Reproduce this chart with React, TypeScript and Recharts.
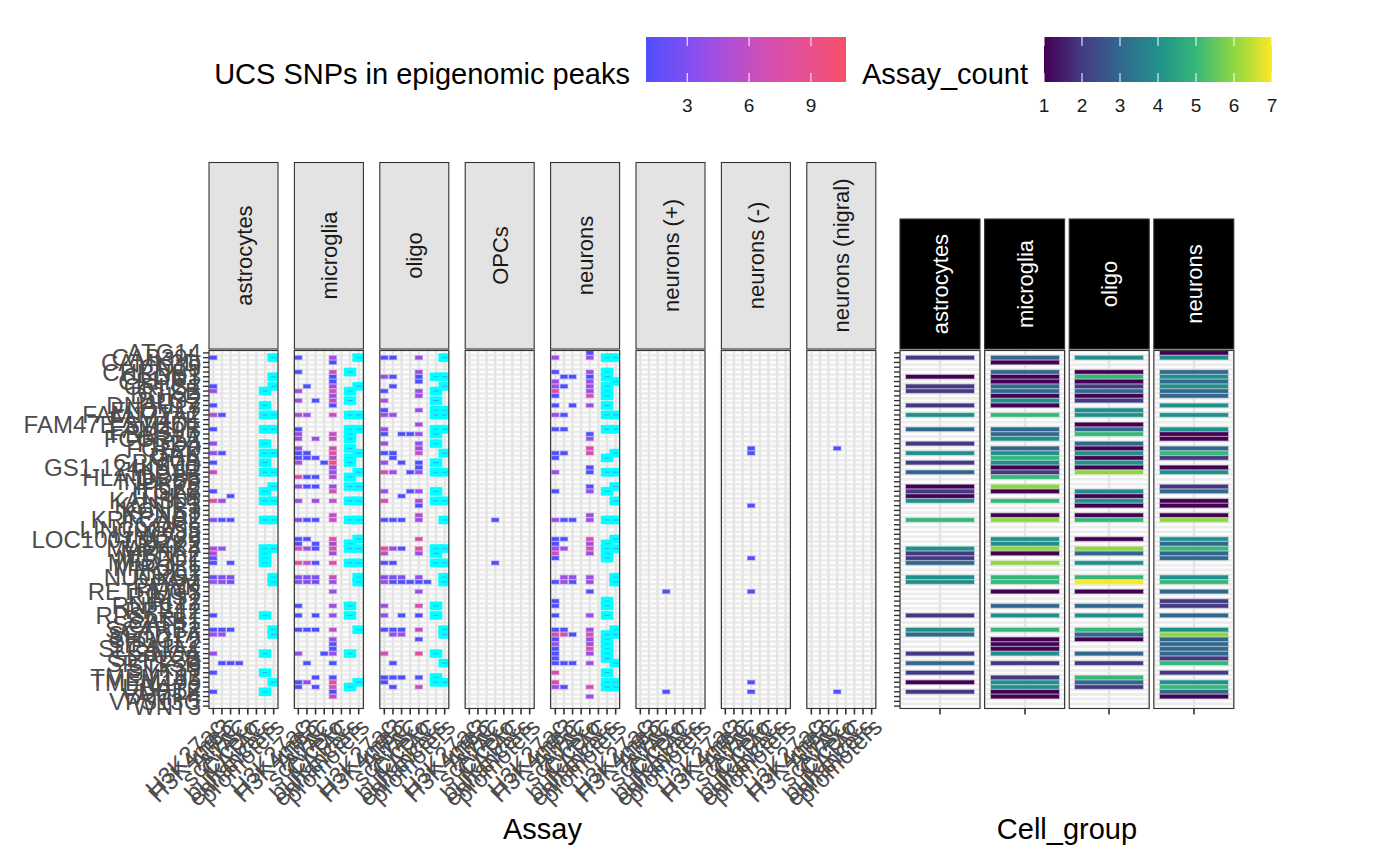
import React from "react";
import { ScatterChart, Scatter, XAxis, YAxis, CartesianGrid } from "recharts";

const genes = [
  "ATG14", "CAB39L", "CAMK2D", "CD19", "CHRNB1", "CLCN3", "CRHR1", "CRLS1", "CTSB", "DGKQ",
  "DLG2", "DNAH17", "ELOVL7", "FAM171A2", "FAM47E", "FAM47E-STBD1", "FAM49B", "FBRSL1", "FCGR2A", "FGD4",
  "FGF20", "GAK", "GBA", "GPNMB", "GS1-124K5.11", "HIP1R", "HLA-DRB5", "INPP5F", "IP6K2", "ITGA8",
  "ITPKB", "KANSL1", "KCNIP3", "KCNS3", "KPNA1", "KRTCAP2", "LCORL", "LINC00693", "LINGO2", "LOC100131289",
  "LRRK2", "MAP4K4", "MBNL2", "MCCC1", "MED12L", "MIPOL1", "NOD2", "NUCKS1", "PAM", "PMVK",
  "RETREG3", "RIMS1", "RIT2", "RNF141", "RPS12", "RPS6KL1", "SATB1", "SCAF11", "SCARB2", "SETD1A",
  "SH3GL2", "SIPA1L2", "SLC41A1", "SNCA", "SPPL2B", "SPTSSB", "STK39", "SYT17", "TMEM163", "TMEM175",
  "UBAP2", "UBTF", "VAMP4", "VPS13C", "WNT3",
];

const assays = ["H3K27ac", "H3K4me3", "ATAC", "scATAC", "Cicero", "bulkATAC", "enhancers", "promoters"];
const cellTypes = ["astrocytes", "microglia", "oligo", "OPCs", "neurons", "neurons (+)", "neurons (-)", "neurons (nigral)"];
const cellGroups = ["astrocytes", "microglia", "oligo", "neurons"];
const snpTicks = [3, 6, 9];
const countTicks = [1, 2, 3, 4, 5, 6, 7];

// [gene row, assay column, UCS SNPs in peak]
const astrocytesPeaks = [
  [1, 0, 1], [7, 0, 1], [8, 0, 4], [11, 0, 1], [13, 0, 5], [13, 1, 1], [16, 0, 1], [19, 0, 4], [21, 0, 4], [21, 1, 1],
  [23, 0, 1], [25, 0, 6], [29, 0, 1], [30, 2, 1], [31, 0, 8], [31, 1, 4], [35, 0, 3], [35, 1, 1], [35, 2, 1], [41, 0, 5],
  [41, 1, 4], [42, 0, 5], [43, 0, 2], [44, 0, 1], [44, 2, 1], [47, 0, 2], [47, 1, 3], [47, 2, 3], [48, 0, 4], [48, 1, 3],
  [48, 2, 2], [55, 0, 1], [58, 0, 1], [58, 1, 1], [58, 2, 1], [59, 0, 4], [59, 1, 4], [63, 0, 4], [65, 1, 1], [65, 2, 1],
  [65, 3, 1], [67, 0, 1], [71, 0, 1],
];
const microgliaPeaks = [
  [1, 0, 1], [1, 4, 4], [2, 4, 1], [4, 0, 1], [4, 4, 7], [5, 4, 1], [6, 4, 1], [7, 1, 1], [7, 4, 4], [8, 0, 4],
  [8, 4, 7], [9, 4, 4], [10, 0, 4], [10, 2, 1], [10, 4, 6], [11, 4, 1], [13, 0, 5], [13, 1, 4], [13, 4, 6], [16, 0, 1],
  [17, 0, 4], [17, 4, 6], [18, 0, 4], [18, 2, 4], [18, 4, 6], [20, 0, 4], [20, 4, 7], [21, 0, 1], [21, 1, 1], [21, 4, 8],
  [22, 0, 1], [22, 1, 1], [22, 2, 1], [22, 4, 5], [23, 0, 5], [23, 3, 1], [23, 4, 10.7], [24, 4, 4], [25, 4, 4], [26, 0, 7],
  [26, 1, 1], [26, 2, 1], [26, 4, 5], [28, 0, 4], [28, 1, 1], [28, 2, 1], [28, 4, 4], [29, 4, 7], [31, 0, 4], [31, 2, 4],
  [31, 4, 6], [34, 4, 6], [35, 0, 3], [35, 1, 1], [35, 2, 1], [35, 4, 6], [39, 0, 1], [39, 1, 1], [39, 4, 8], [40, 0, 1],
  [40, 2, 1], [40, 4, 4], [41, 0, 7], [41, 1, 4], [41, 2, 1], [41, 4, 8], [42, 4, 4], [44, 0, 8], [44, 1, 6], [44, 2, 1],
  [44, 4, 8], [47, 0, 3], [47, 1, 3], [47, 2, 3], [47, 4, 6], [48, 0, 3], [48, 1, 3], [48, 2, 2], [48, 4, 4], [50, 4, 4],
  [53, 0, 1], [53, 4, 4], [55, 0, 1], [55, 2, 1], [55, 4, 4], [58, 0, 1], [58, 1, 1], [58, 2, 1], [58, 4, 6], [60, 4, 4],
  [61, 4, 1], [62, 4, 1], [63, 0, 4], [63, 3, 1], [63, 4, 4], [65, 1, 1], [65, 4, 1], [68, 2, 1], [68, 4, 1], [69, 0, 1],
  [69, 1, 4], [69, 4, 8], [70, 0, 1], [70, 2, 1], [70, 4, 7], [71, 4, 1], [72, 4, 6],
];
const oligoPeaks = [
  [1, 0, 1], [1, 1, 1], [1, 4, 4], [4, 4, 4], [5, 0, 4], [5, 1, 1], [5, 4, 1], [6, 4, 1], [7, 1, 1], [8, 0, 1],
  [8, 4, 4], [9, 4, 4], [10, 0, 5], [12, 0, 1], [12, 4, 4], [13, 0, 4], [13, 1, 4], [15, 4, 4], [16, 0, 4], [17, 0, 1],
  [17, 2, 1], [17, 3, 1], [17, 4, 4], [19, 0, 4], [19, 4, 4], [20, 4, 4], [21, 0, 1], [21, 1, 1], [21, 4, 6], [22, 1, 1],
  [23, 0, 4], [23, 2, 1], [23, 4, 1], [24, 4, 1], [25, 0, 7], [25, 1, 4], [25, 3, 1], [25, 4, 4], [29, 0, 4], [29, 3, 1],
  [29, 4, 4], [30, 2, 1], [31, 0, 7], [31, 4, 5], [32, 4, 1], [34, 4, 5], [35, 0, 1], [35, 1, 1], [35, 2, 1], [35, 4, 4],
  [39, 4, 7], [41, 0, 8], [41, 1, 4], [41, 2, 1], [41, 4, 8], [42, 0, 6], [42, 4, 4], [44, 0, 1], [44, 1, 1], [47, 0, 3],
  [47, 1, 3], [47, 2, 3], [47, 4, 4], [48, 0, 4], [48, 1, 1], [48, 2, 1], [48, 3, 1], [48, 4, 1], [48, 5, 1], [50, 4, 4],
  [53, 0, 4], [53, 4, 7], [55, 0, 4], [55, 2, 1], [55, 4, 1], [58, 0, 1], [58, 1, 1], [58, 2, 1], [58, 4, 6], [59, 1, 4],
  [59, 2, 4], [60, 4, 1], [63, 0, 7], [63, 4, 8], [65, 1, 1], [68, 0, 1], [68, 1, 1], [68, 2, 1], [68, 4, 1], [69, 0, 1],
  [70, 1, 1], [70, 4, 6],
];
const opcsPeaks = [[35, 3, 1], [44, 3, 1]];
const neuronsPeaks = [
  [0, 4, 1], [1, 0, 4], [1, 4, 4], [4, 0, 1], [4, 4, 4], [5, 1, 1], [5, 2, 1], [5, 4, 1], [6, 0, 4], [6, 4, 4],
  [7, 0, 4], [7, 1, 1], [7, 4, 4], [8, 0, 7], [8, 4, 4], [9, 0, 1], [9, 4, 7], [11, 0, 1], [11, 2, 1], [11, 4, 4],
  [13, 0, 4], [13, 1, 1], [16, 0, 1], [16, 1, 1], [17, 4, 1], [18, 4, 4], [20, 4, 7], [21, 0, 1], [21, 1, 1], [21, 4, 7],
  [22, 0, 1], [24, 4, 1], [25, 0, 4], [25, 4, 1], [28, 4, 1], [29, 0, 1], [29, 4, 4], [34, 4, 4], [35, 0, 4], [35, 1, 1],
  [35, 2, 1], [35, 4, 4], [39, 0, 1], [39, 1, 1], [39, 4, 7], [40, 0, 1], [40, 4, 4], [41, 0, 4], [41, 1, 4], [41, 4, 7],
  [42, 0, 7], [42, 4, 4], [43, 0, 1], [47, 1, 4], [47, 2, 4], [47, 4, 4], [48, 0, 1], [48, 1, 4], [48, 2, 1], [48, 4, 4],
  [50, 4, 1], [52, 0, 1], [53, 0, 1], [55, 0, 1], [55, 4, 4], [58, 0, 1], [58, 1, 1], [58, 4, 4], [59, 0, 7], [59, 1, 7],
  [59, 2, 1], [59, 4, 7], [60, 0, 1], [60, 4, 4], [61, 0, 4], [61, 4, 4], [62, 0, 1], [62, 4, 7], [63, 0, 1], [63, 4, 4],
  [64, 0, 1], [65, 0, 1], [65, 1, 1], [65, 2, 1], [65, 4, 4], [67, 0, 7], [69, 0, 7], [70, 0, 4], [70, 1, 1], [70, 4, 7],
  [72, 4, 4],
];
const neuronsPlusPeaks = [[50, 3, 1], [71, 3, 1]];
const neuronsMinusPeaks = [[20, 3, 1], [21, 3, 1], [32, 3, 1], [43, 3, 1], [50, 3, 1], [69, 3, 1], [71, 3, 1]];
const neuronsNigralPeaks = [[20, 3, 1], [71, 3, 1]];

// [gene row, assay column] PLAC-seq anchors (cyan)
const astrocytesPlac = [
  [1, 7], [5, 7], [7, 7], [8, 6], [11, 6], [13, 6], [13, 7], [16, 6], [16, 7], [19, 6], [21, 6], [21, 7], [23, 6],
  [25, 6], [25, 7], [28, 7], [29, 6], [31, 6], [31, 7], [35, 6], [35, 7], [41, 6], [41, 7], [42, 6], [43, 6], [44, 6],
  [47, 7], [48, 7], [55, 6], [58, 7], [59, 7], [63, 6], [67, 6], [69, 7], [71, 6],
];
const microgliaPlac = [
  [1, 7], [4, 6], [7, 7], [8, 6], [10, 6], [13, 6], [13, 7], [16, 6], [16, 7], [17, 6], [18, 6], [20, 6], [21, 7],
  [22, 6], [23, 6], [25, 7], [26, 6], [28, 6], [28, 7], [31, 6], [31, 7], [35, 6], [35, 7], [39, 7], [40, 6], [41, 6],
  [41, 7], [44, 6], [44, 7], [47, 7], [48, 7], [53, 6], [55, 6], [58, 7], [63, 6], [69, 7], [70, 6],
];
const oligoPlac = [
  [1, 7], [5, 6], [5, 7], [7, 7], [8, 6], [10, 6], [12, 6], [12, 7], [13, 6], [13, 7], [16, 6], [16, 7], [17, 6],
  [19, 6], [21, 7], [23, 6], [25, 6], [25, 7], [29, 6], [31, 6], [31, 7], [35, 7], [41, 6], [41, 7], [42, 6], [44, 6],
  [44, 7], [47, 7], [48, 7], [53, 6], [55, 6], [58, 7], [59, 7], [63, 6], [65, 7], [68, 6], [69, 6], [69, 7],
];
const neuronsPlac = [
  [1, 6], [1, 7], [4, 6], [5, 6], [6, 7], [7, 6], [8, 6], [9, 6], [11, 6], [13, 6], [13, 7], [16, 6], [16, 7],
  [21, 7], [22, 6], [25, 6], [25, 7], [28, 7], [29, 6], [31, 7], [35, 6], [35, 7], [39, 7], [40, 6], [41, 6], [41, 7],
  [42, 6], [43, 6], [47, 7], [48, 7], [52, 6], [53, 6], [55, 6], [58, 7], [59, 6], [59, 7], [60, 6], [61, 6], [62, 6],
  [63, 6], [64, 6], [65, 7], [67, 6], [69, 6], [69, 7], [70, 6], [70, 7],
];

// [gene row, Assay_count]
const astrocytesCount = [
  [1, 2], [5, 1], [7, 2], [8, 2], [11, 2], [13, 4], [16, 3], [19, 2], [21, 4], [23, 2], [25, 3], [28, 1], [29, 2], [30, 1],
  [31, 4], [35, 5], [41, 4], [42, 2], [43, 2], [44, 3], [47, 4], [48, 4], [55, 2], [58, 4], [59, 3], [63, 2], [65, 3],
  [67, 2], [69, 1], [71, 2],
];
const microgliaCount = [
  [1, 3], [2, 1], [4, 3], [5, 1], [6, 1], [7, 3], [8, 3], [9, 1], [10, 4], [11, 1], [13, 5], [16, 3], [17, 3], [18, 4],
  [20, 3], [21, 4], [22, 5], [23, 4], [24, 1], [25, 2], [26, 5], [28, 6], [29, 1], [31, 5], [34, 1], [35, 6], [39, 4],
  [40, 4], [41, 6], [42, 1], [44, 6], [47, 5], [48, 5], [50, 1], [53, 3], [55, 4], [58, 5], [60, 1], [61, 1], [62, 1],
  [63, 4], [65, 2], [68, 2], [69, 4], [70, 4], [71, 1], [72, 1],
];
const oligoCount = [
  [1, 4], [4, 1], [5, 5], [6, 1], [7, 2], [8, 3], [9, 1], [10, 2], [12, 4], [13, 4], [15, 1], [16, 3], [17, 5], [19, 3],
  [20, 1], [21, 4], [22, 1], [23, 4], [24, 1], [25, 6], [29, 4], [30, 1], [31, 4], [32, 1], [34, 1], [35, 5], [39, 1],
  [41, 6], [42, 3], [44, 4], [47, 5], [48, 7], [50, 1], [53, 3], [55, 4], [58, 5], [59, 3], [60, 1], [63, 3], [65, 2],
  [68, 5], [69, 3], [70, 2],
];
const neuronsCount = [
  [0, 1], [1, 4], [4, 3], [5, 4], [6, 3], [7, 4], [8, 3], [9, 3], [11, 4], [13, 4], [16, 4], [17, 1], [18, 1], [20, 3],
  [21, 5], [22, 2], [24, 1], [25, 4], [28, 2], [29, 3], [31, 1], [32, 1], [34, 1], [35, 6], [39, 4], [40, 3], [41, 5],
  [42, 3], [43, 3], [47, 4], [48, 5], [50, 3], [52, 2], [53, 2], [55, 3], [58, 4], [59, 6], [60, 3], [61, 3], [62, 3],
  [63, 3], [64, 2], [65, 5], [67, 2], [69, 4], [70, 5], [71, 3], [72, 1],
];

const leftPeaks = [astrocytesPeaks, microgliaPeaks, oligoPeaks, opcsPeaks, neuronsPeaks, neuronsPlusPeaks, neuronsMinusPeaks, neuronsNigralPeaks];
const leftPlac = [astrocytesPlac, microgliaPlac, oligoPlac, [], neuronsPlac, [], [], []];
const rightCounts = [astrocytesCount, microgliaCount, oligoCount, neuronsCount];

const FONT = "'Liberation Sans', Arial, Helvetica, sans-serif";
const W = 1400;
const H = 866;
const PANEL_TOP = 350.5;
const PANEL_BOTTOM = 708.5;
const PANEL_H = PANEL_BOTTOM - PANEL_TOP;
const CELL_H = PANEL_H / genes.length;
const X_AXIS_H = 130;
const LEFT_X0 = 209;
const LEFT_STEP = 85.4;
const LEFT_W = 69;
const RIGHT_X0 = 900;
const RIGHT_STEP = 84.6;
const RIGHT_W = 80;
const SNP_MAX = 10.7;

const snpStops: [number, string][] = [[1, "#4F4FFF"], [4, "#9A4EE8"], [7, "#D64FB0"], [SNP_MAX, "#F7506A"]];
const viridis7 = ["#440154", "#443A83", "#31688E", "#21908C", "#35B779", "#8FD744", "#FDE725"];

const hex = (c: string) => [1, 3, 5].map((i) => parseInt(c.slice(i, i + 2), 16));
const snpColor = (v: number) => {
  for (let i = 0; i < snpStops.length - 1; i++) {
    const [a, ca] = snpStops[i];
    const [b, cb] = snpStops[i + 1];
    if (v <= b) {
      const t = Math.max(0, (v - a) / (b - a));
      const A = hex(ca);
      const B = hex(cb);
      return `rgb(${A.map((x, k) => Math.round(x + (B[k] - x) * t)).join(",")})`;
    }
  }
  return snpStops[snpStops.length - 1][1];
};

const rowTicks = genes.map((_, i) => i);
const colTicks = assays.map((_, i) => i);

const AssayTick = (props: any) => {
  const { x, y, payload } = props;
  return (
    <text
      x={x}
      y={y}
      dy={17}
      textAnchor="end"
      transform={`rotate(-45 ${x} ${y})`}
      fontSize={24}
      fill="#4D4D4D"
      fontFamily={FONT}
    >
      {assays[payload.value]}
    </text>
  );
};

// tick marks without a label
const NoLabel = () => <g />;

function LeftFacet({ index }: { index: number }) {
  const first = index === 0;
  const pad = first ? LEFT_X0 : 110;
  const cellW = LEFT_W / assays.length;
  const peaks = leftPeaks[index].map(([r, c, v]) => ({ x: c, y: r, v }));
  const plac = leftPlac[index].map(([r, c]) => ({ x: c, y: r }));

  const tile = (p: any) => {
    const col = snpColor(p.payload?.v ?? p.v);
    return (
      <rect x={p.cx - cellW / 2 + 0.8} y={p.cy - CELL_H / 2 + 0.6} width={cellW - 1.6} height={CELL_H - 1.2}
        fill={col} stroke={col} strokeOpacity={0.4} strokeWidth={1.4} />
    );
  };
  const anchor = (p: any) => (
    <g>
      <rect x={p.cx - cellW * 0.7} y={p.cy - CELL_H * 0.87} width={cellW * 1.4} height={CELL_H * 1.74}
        fill="#00FFFF" stroke="#00FFFF" strokeOpacity={0.4} strokeWidth={1} />
      <line x1={p.cx - 2.5} x2={p.cx + 2.5} y1={p.cy} y2={p.cy} stroke="#3AA6F0" strokeWidth={1} />
    </g>
  );

  return (
    <div style={{ position: "absolute", left: LEFT_X0 + index * LEFT_STEP - pad, top: 0 }}>
      <ScatterChart
        width={pad + LEFT_W + 24}
        height={H}
        margin={{ top: PANEL_TOP, right: 24, bottom: H - PANEL_BOTTOM - X_AXIS_H, left: first ? 0 : pad }}
      >
        <CartesianGrid vertical={false} fill="#EDEDED" stroke="#FFFFFF" strokeWidth={1.8} />
        <CartesianGrid horizontal={false} stroke="#E4E4E4" strokeWidth={2.4} />
        <XAxis
          type="number"
          dataKey="x"
          domain={[-0.5, assays.length - 0.5]}
          allowDataOverflow
          ticks={colTicks}
          interval={0}
          height={X_AXIS_H}
          axisLine={false}
          tickLine={{ stroke: "#333333", strokeWidth: 1.6 }}
          tickSize={6}
          tickMargin={2}
          tick={<AssayTick />}
        />
        <YAxis
          type="number"
          dataKey="y"
          domain={[-0.5, genes.length - 0.5]}
          allowDataOverflow
          reversed
          hide={!first}
          ticks={rowTicks}
          interval={0}
          width={pad}
          axisLine={false}
          tickLine={{ stroke: "#333333", strokeWidth: 1.4 }}
          tickSize={6}
          tickMargin={2}
          tickFormatter={(v: number) => genes[v]}
          tick={{ fontSize: 24, fill: "#4D4D4D", fontFamily: FONT }}
        />
        <Scatter data={peaks} shape={tile} isAnimationActive={false} />
        <Scatter data={plac} shape={anchor} isAnimationActive={false} />
      </ScatterChart>
    </div>
  );
}

function RightFacet({ index }: { index: number }) {
  const first = index === 0;
  const pad = first ? 10 : 0;
  const bars = rightCounts[index].map(([r, n]) => ({ x: 0, y: r, n }));
  const bar = (p: any) => {
    const col = viridis7[(p.payload?.n ?? p.n) - 1];
    const bw = RIGHT_W * 0.85;
    return (
      <rect x={p.cx - bw / 2} y={p.cy - CELL_H / 2 + 0.6} width={bw} height={CELL_H - 1.2}
        fill={col} stroke={col} strokeOpacity={0.4} strokeWidth={1.4} />
    );
  };
  return (
    <div style={{ position: "absolute", left: RIGHT_X0 + index * RIGHT_STEP - pad, top: 0 }}>
      <ScatterChart
        width={pad + RIGHT_W + 2}
        height={H}
        margin={{ top: PANEL_TOP, right: 2, bottom: H - PANEL_BOTTOM - X_AXIS_H, left: 0 }}
      >
        <CartesianGrid vertical={false} fill="#EDEDED" stroke="#FFFFFF" strokeWidth={1.8} />
        <CartesianGrid horizontal={false} stroke="#E4E4E4" strokeWidth={2.4} />
        <XAxis
          type="number"
          dataKey="x"
          domain={[-0.5, 0.5]}
          allowDataOverflow
          ticks={[0]}
          interval={0}
          height={X_AXIS_H}
          axisLine={false}
          tickLine={{ stroke: "#333333", strokeWidth: 1.6 }}
          tickSize={6}
          tick={<NoLabel />}
        />
        <YAxis
          type="number"
          dataKey="y"
          domain={[-0.5, genes.length - 0.5]}
          allowDataOverflow
          reversed
          hide={!first}
          ticks={rowTicks}
          interval={0}
          width={pad}
          axisLine={false}
          tickLine={{ stroke: "#333333", strokeWidth: 1.4 }}
          tickSize={6}
          tick={<NoLabel />}
        />
        <Scatter data={bars} shape={bar} isAnimationActive={false} />
      </ScatterChart>
    </div>
  );
}

function Overlay() {
  const bar1 = { x: 646, y: 37, w: 200, h: 45 };
  const bar2 = { x: 1044, y: 37, w: 228, h: 45 };
  const sx1 = (v: number) => bar1.x + ((v - 1) / (SNP_MAX - 1)) * bar1.w;
  const sx2 = (v: number) => bar2.x + ((v - 1) / 6) * bar2.w;
  return (
    <svg width={W} height={H} style={{ position: "absolute", left: 0, top: 0, pointerEvents: "none" }} fontFamily={FONT}>
      <defs>
        <linearGradient id="snpGrad" x1="0" x2="1" y1="0" y2="0">
          {snpStops.map(([v, c]) => (
            <stop key={v} offset={(v - 1) / (SNP_MAX - 1)} stopColor={c} />
          ))}
        </linearGradient>
        <linearGradient id="countGrad" x1="0" x2="1" y1="0" y2="0">
          {viridis7.map((c, i) => (
            <stop key={c} offset={i / 6} stopColor={c} />
          ))}
        </linearGradient>
      </defs>

      {/* legends */}
      <text x={630} y={84} textAnchor="end" fontSize={29} fill="#000">UCS SNPs in epigenomic peaks</text>
      <rect x={bar1.x} y={bar1.y} width={bar1.w} height={bar1.h} fill="url(#snpGrad)" />
      {snpTicks.map((t) => (
        <g key={t}>
          <line x1={sx1(t)} x2={sx1(t)} y1={bar1.y} y2={bar1.y + 9} stroke="#fff" strokeWidth={1} />
          <line x1={sx1(t)} x2={sx1(t)} y1={bar1.y + bar1.h - 9} y2={bar1.y + bar1.h} stroke="#fff" strokeWidth={1} />
          <text x={sx1(t)} y={112} textAnchor="middle" fontSize={19} fill="#1A1A1A">{t}</text>
        </g>
      ))}
      <text x={862} y={84} fontSize={29} fill="#000">Assay_count</text>
      <rect x={bar2.x} y={bar2.y} width={bar2.w} height={bar2.h} fill="url(#countGrad)" />
      {countTicks.map((t) => (
        <g key={t}>
          <line x1={sx2(t)} x2={sx2(t)} y1={bar2.y} y2={bar2.y + 9} stroke="#fff" strokeWidth={1} />
          <line x1={sx2(t)} x2={sx2(t)} y1={bar2.y + bar2.h - 9} y2={bar2.y + bar2.h} stroke="#fff" strokeWidth={1} />
          <text x={sx2(t)} y={112} textAnchor="middle" fontSize={19} fill="#1A1A1A">{t}</text>
        </g>
      ))}

      {/* strips and panel borders */}
      {cellTypes.map((name, i) => {
        const x = LEFT_X0 + i * LEFT_STEP;
        const cy = 255.5;
        return (
          <g key={name}>
            <rect x={x} y={162.5} width={LEFT_W} height={186.5} fill="#E3E3E3" stroke="#333333" strokeWidth={1.1} />
            <text x={x + LEFT_W / 2} y={cy} transform={`rotate(-90 ${x + LEFT_W / 2} ${cy})`} textAnchor="middle"
              dy={8} fontSize={22} fill="#1A1A1A">{name}</text>
            <rect x={x} y={PANEL_TOP} width={LEFT_W} height={PANEL_H} fill="none" stroke="#333333" strokeWidth={1.1} />
          </g>
        );
      })}
      {cellGroups.map((name, i) => {
        const x = RIGHT_X0 + i * RIGHT_STEP;
        const cy = 284;
        return (
          <g key={name}>
            <rect x={x} y={219} width={RIGHT_W} height={130} fill="#000000" stroke="#333333" strokeWidth={1.1} />
            <text x={x + RIGHT_W / 2} y={cy} transform={`rotate(-90 ${x + RIGHT_W / 2} ${cy})`} textAnchor="middle"
              dy={8} fontSize={22} fill="#FFFFFF">{name}</text>
            <rect x={x} y={PANEL_TOP} width={RIGHT_W} height={PANEL_H} fill="none" stroke="#333333" strokeWidth={1.1} />
          </g>
        );
      })}

      {/* axis titles */}
      <text x={542.5} y={839} textAnchor="middle" fontSize={29} fill="#000">Assay</text>
      <text x={1067} y={839} textAnchor="middle" fontSize={29} fill="#000">Cell_group</text>
    </svg>
  );
}

export default function App() {
  return (
    <div style={{ position: "absolute", left: 0, top: 0, width: W, height: H, background: "#fff", overflow: "hidden", fontFamily: FONT }}>
      {cellTypes.map((_, i) => (
        <LeftFacet key={i} index={i} />
      ))}
      {cellGroups.map((_, i) => (
        <RightFacet key={i} index={i} />
      ))}
      <Overlay />
    </div>
  );
}
